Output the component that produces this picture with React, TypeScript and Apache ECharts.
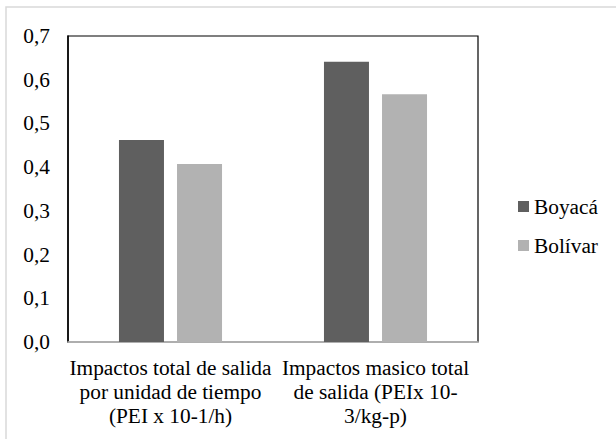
import React, { useEffect, useRef } from "react";
import * as echarts from "echarts";

const categories = [
  "Impactos total de salida\npor unidad de tiempo\n(PEI x 10-1/h)",
  "Impactos masico total\nde salida (PEIx 10-\n3/kg-p)",
];
const seriesNames = ["Boyacá", "Bolívar"];
const boyacaValues = [0.462, 0.641];
const bolivarValues = [0.407, 0.567];
const yTicks = { min: 0, max: 0.7, interval: 0.1 };

const FONT = "'Liberation Serif', 'Times New Roman', serif";
const FS = 21.33;

export default function App() {
  const ref = useRef<HTMLDivElement>(null);
  useEffect(() => {
    if (!ref.current) return;
    const chart = echarts.init(ref.current, undefined, { renderer: "svg" });
    chart.setOption({
      animation: false,
      backgroundColor: "#ffffff",
      textStyle: { fontFamily: FONT },
      graphic: [
        {
          type: "rect",
          shape: { x: 6, y: 7, width: 800, height: 600 },
          style: { fill: "none", stroke: "#d9d9d9", lineWidth: 1.5 },
          silent: true,
          z: -10,
        },
      ],
      grid: {
        left: 68,
        top: 36,
        right: 138,
        bottom: 97,
        show: true,
        borderColor: "#000000",
        borderWidth: 1.2,
        backgroundColor: "transparent",
      },
      legend: {
        orient: "vertical",
        left: 518,
        top: 196,
        padding: 0,
        itemWidth: 11,
        itemHeight: 11,
        itemGap: 18,
        icon: "rect",
        data: seriesNames,
        textStyle: { fontFamily: FONT, fontSize: FS, color: "#000000" },
      },
      xAxis: {
        type: "category",
        data: categories,
        axisLine: { show: true, lineStyle: { color: "#bfbfbf", width: 1.5 } },
        axisTick: { show: false },
        axisLabel: {
          interval: 0,
          margin: 14,
          fontFamily: FONT,
          fontSize: FS,
          lineHeight: 24,
          color: "#000000",
          align: "center",
        },
        splitLine: { show: false },
      },
      yAxis: {
        type: "value",
        min: yTicks.min,
        max: yTicks.max,
        interval: yTicks.interval,
        axisLine: { show: true, lineStyle: { color: "#000000", width: 1.5 } },
        axisTick: { show: false },
        splitLine: { show: false },
        axisLabel: {
          margin: 18,
          fontFamily: FONT,
          fontSize: FS,
          color: "#000000",
          formatter: (v: number) => v.toFixed(1).replace(".", ","),
        },
      },
      series: [
        {
          name: seriesNames[0],
          type: "bar",
          data: boyacaValues,
          barWidth: 45,
          barGap: "29%",
          itemStyle: { color: "#5f5f5f" },
        },
        {
          name: seriesNames[1],
          type: "bar",
          data: bolivarValues,
          barWidth: 45,
          barGap: "29%",
          itemStyle: { color: "#b2b2b2" },
        },
      ],
    });
    return () => chart.dispose();
  }, []);
  return (
    <div
      ref={ref}
      style={{ position: "fixed", left: 0, top: 0, width: 616, height: 439 }}
    />
  );
}
